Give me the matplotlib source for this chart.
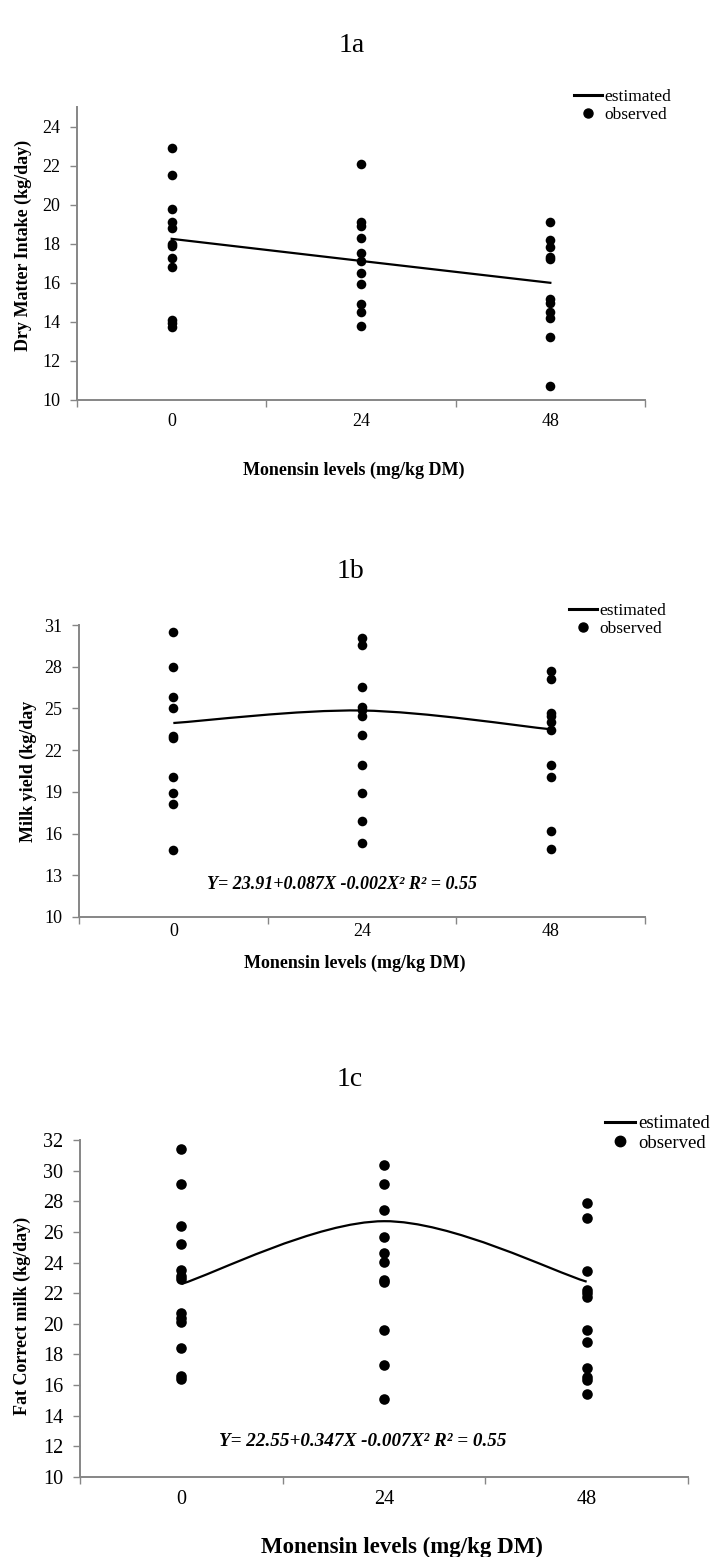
import matplotlib
matplotlib.use('Agg')
import matplotlib.pyplot as plt
from matplotlib.path import Path
from matplotlib.patches import PathPatch
from matplotlib.lines import Line2D

W, H = 714, 1557
plt.rcParams['font.family'] = ['Liberation Serif', 'DejaVu Serif']

# ---------------- data ----------------
levels = [0, 24, 48]
level_labels = ['0', '24', '48']

dmi_0 = [22.9, 21.5, 19.8, 19.1, 18.8, 18.0, 17.9, 17.25, 16.8, 14.1, 13.95, 13.75]
dmi_24 = [22.1, 19.1, 18.9, 18.3, 17.5, 17.1, 16.5, 15.95, 14.9, 14.5, 13.8]
dmi_48 = [19.1, 18.2, 17.85, 17.3, 17.2, 15.15, 14.95, 14.5, 14.2, 13.2, 10.7]
dmi_est = [18.25, 17.12, 16.0]

milk_0 = [30.5, 28.0, 25.85, 25.05, 23.05, 22.85, 20.1, 18.9, 18.1, 14.8]
milk_24 = [30.1, 29.55, 26.55, 25.1, 24.9, 24.45, 23.1, 20.9, 18.9, 16.9, 15.3]
milk_48 = [27.7, 27.15, 24.7, 24.45, 24.0, 23.45, 20.9, 20.1, 16.2, 14.9]
milk_est = [23.95, 24.85, 23.5]

fcm_0 = [31.4, 29.1, 26.4, 25.2, 23.5, 23.1, 22.9, 20.7, 20.4, 20.1, 18.4, 16.6, 16.4]
fcm_24 = [30.4, 29.1, 27.4, 25.65, 24.6, 24.05, 22.85, 22.7, 19.6, 17.3, 15.1]
fcm_48 = [27.9, 26.9, 23.45, 22.2, 22.0, 21.75, 19.6, 18.8, 17.1, 16.55, 16.3, 15.4]
fcm_est = [22.6, 26.7, 22.75]

titles = ['1a', '1b', '1c']
ylabels = ['Dry Matter Intake (kg/day)', 'Milk yield (kg/day', 'Fat Correct milk (kg/day)']
xlabel = 'Monensin levels (mg/kg DM)'
eq_b = 'Y= 23.91+0.087X -0.002X² R² = 0.55'
eq_c = 'Y= 22.55+0.347X -0.007X² R² = 0.55'
legend_labels = ['estimated', 'observed']

GREY = '#868686'
fig = plt.figure(figsize=(W / 100, H / 100), dpi=100)


def fx(x):
    return x / W


def fy(y):
    return 1 - y / H


def make_axes(l, t, r, b):
    return fig.add_axes([fx(l), fy(b), (r - l) / W, (b - t) / H])


def smooth_path(xs, ys):
    pts = list(zip(xs, ys))
    n = len(pts)
    verts = [pts[0]]
    codes = [Path.MOVETO]
    for i in range(n - 1):
        p0 = pts[i - 1] if i > 0 else pts[i]
        p1 = pts[i]
        p2 = pts[i + 1]
        p3 = pts[i + 2] if i + 2 < n else pts[i + 1]
        c1 = (p1[0] + (p2[0] - p0[0]) / 6, p1[1] + (p2[1] - p0[1]) / 6)
        c2 = (p2[0] - (p3[0] - p1[0]) / 6, p2[1] - (p3[1] - p1[1]) / 6)
        verts += [c1, c2, p2]
        codes += [Path.CURVE4] * 3
    return Path(verts, codes)


def style_axes(ax, ylim, yticks, tick_pad_x, labelsize):
    ax.set_xlim(-12, 60)
    ax.set_ylim(*ylim)
    for s in ['top', 'right']:
        ax.spines[s].set_visible(False)
    for s in ['left', 'bottom']:
        ax.spines[s].set_color(GREY)
        ax.spines[s].set_linewidth(1.4)
    ax.set_yticks(yticks)
    ax.set_yticklabels([str(v) for v in yticks])
    ax.set_xticks(levels)
    ax.set_xticklabels(level_labels)
    ax.set_xticks([-12, 12, 36, 60], minor=True)
    ax.tick_params(axis='y', direction='out', length=5, width=1, color=GREY,
                   labelsize=labelsize, pad=7)
    ax.tick_params(axis='x', which='major', length=0, labelsize=labelsize,
                   pad=tick_pad_x)
    ax.tick_params(axis='x', which='minor', direction='out', length=5, width=1,
                   color=GREY)


def draw_panel(ax, groups, est, smooth, msize):
    for lev, vals in zip(levels, groups):
        ax.scatter([lev] * len(vals), vals, s=msize, color='black', zorder=3,
                   clip_on=False, linewidths=0)
    if smooth:
        ax.add_patch(PathPatch(smooth_path(levels, est), facecolor='none',
                               edgecolor='black', linewidth=1.6, zorder=2))
    else:
        ax.plot(levels, est, color='black', linewidth=1.6, zorder=2)


def add_legend(ax, left, top, msize_pt, fs):
    handles = [Line2D([], [], color='black', linewidth=2.2),
               Line2D([], [], color='black', marker='o', linestyle='none',
                      markersize=msize_pt)]
    ax.legend(handles, legend_labels, loc='upper left',
              bbox_to_anchor=(fx(left), fy(top)), bbox_transform=fig.transFigure,
              frameon=False, fontsize=fs, handlelength=1.6, handletextpad=0.15,
              labelspacing=0.12, borderpad=0, borderaxespad=0)


# ---------------- panel 1a ----------------
ax1 = make_axes(77, 107, 645, 400)
style_axes(ax1, (10, 25), list(range(10, 25, 2)), 9, 13)
draw_panel(ax1, [dmi_0, dmi_24, dmi_48], dmi_est, False, 48)
add_legend(ax1, 574, 89, 6.5, 12.5)
fig.text(fx(352), fy(45), titles[0], ha='center', va='center', fontsize=20)
fig.text(fx(23), fy(245), ylabels[0], ha='center', va='center', rotation=90,
         fontsize=13, fontweight='bold')
fig.text(fx(354), fy(470), xlabel, ha='center', va='center', fontsize=13,
         fontweight='bold')

# ---------------- panel 1b ----------------
ax2 = make_axes(79, 625, 645, 917)
style_axes(ax2, (10, 31), list(range(10, 32, 3)), 4, 13)
draw_panel(ax2, [milk_0, milk_24, milk_48], milk_est, True, 48)
add_legend(ax2, 569, 603, 6.5, 12.5)
fig.text(fx(350), fy(571), titles[1], ha='center', va='center', fontsize=20)
fig.text(fx(28), fy(771), ylabels[1], ha='center', va='center', rotation=90,
         fontsize=13, fontweight='bold')
fig.text(fx(355), fy(963), xlabel, ha='center', va='center', fontsize=13,
         fontweight='bold')
fig.text(fx(342), fy(885), eq_b, ha='center', va='center', fontsize=13,
         fontweight='bold', fontstyle='italic')

# ---------------- panel 1c ----------------
ax3 = make_axes(80, 1140, 688, 1477)
style_axes(ax3, (10, 32), list(range(10, 33, 2)), 9, 14.5)
draw_panel(ax3, [fcm_0, fcm_24, fcm_48], fcm_est, True, 58)
add_legend(ax3, 605, 1115, 7.5, 13.5)
fig.text(fx(350), fy(1080), titles[2], ha='center', va='center', fontsize=20)
fig.text(fx(22), fy(1316), ylabels[2], ha='center', va='center', rotation=90,
         fontsize=13, fontweight='bold')
fig.text(fx(402), fy(1547), xlabel, ha='center', va='center', fontsize=16.5,
         fontweight='bold')
fig.text(fx(363), fy(1441), eq_c, ha='center', va='center', fontsize=13.8,
         fontweight='bold', fontstyle='italic')

fig.savefig('out.png', dpi=100)
